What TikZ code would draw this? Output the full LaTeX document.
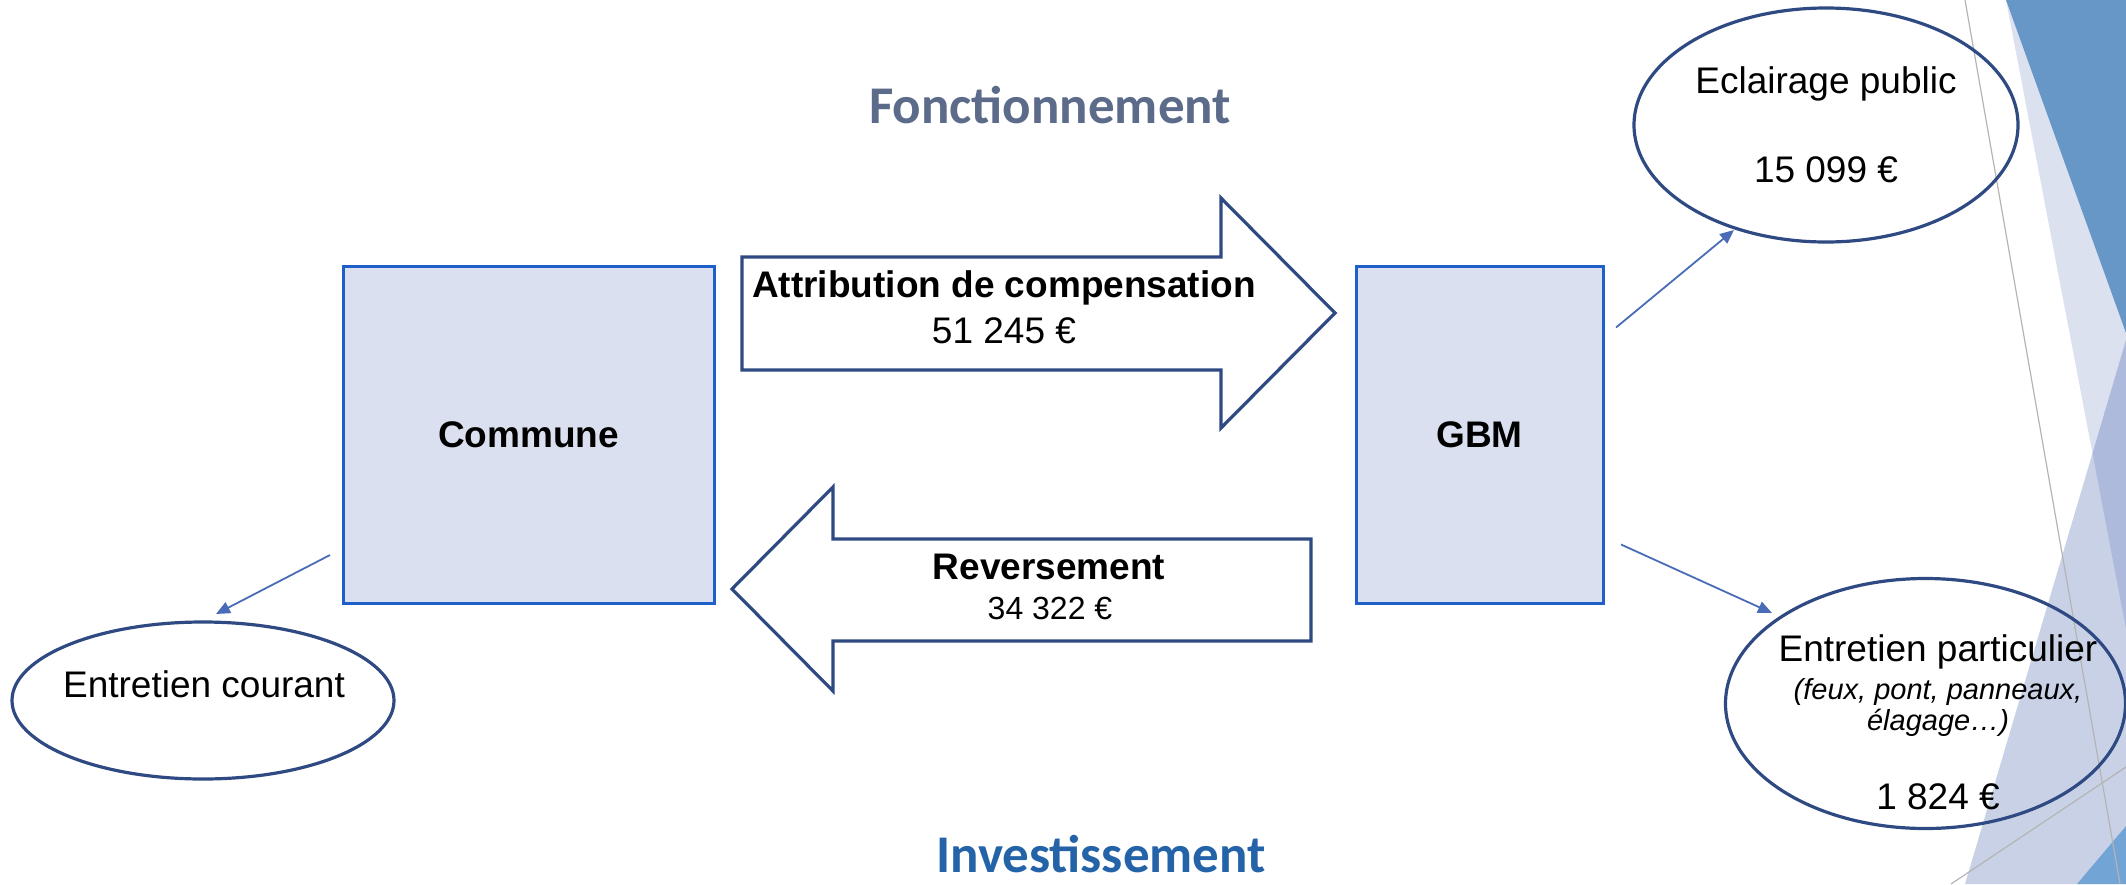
\documentclass[tikz,border=0pt]{standalone}
\usepackage{fontspec}
\setmainfont{Liberation Sans}
\newfontfamily\headfont{Carlito}
\usepackage{xcolor}
\usepackage{tikz}
\usetikzlibrary{arrows.meta,positioning,shapes.geometric}

\definecolor{boxblue}{HTML}{1F5FC9}
\definecolor{boxfill}{HTML}{DAE0F0}
\definecolor{navyline}{HTML}{2F4A82}
\definecolor{thinblue}{HTML}{4A6CB6}
\definecolor{headgray}{HTML}{5B6B89}
\definecolor{headblue}{HTML}{2563A8}
\definecolor{decodark}{HTML}{6797C7}
\definecolor{decopale}{HTML}{DCE1F0}
\definecolor{decolav}{HTML}{2748A0}
\definecolor{decoblue}{HTML}{72A5D6}
\definecolor{decoline}{HTML}{B4B4B4}

\newcommand\bodysize{\fontsize{18.5}{22}\selectfont}
\newcommand\notesize{\fontsize{14.5}{17}\selectfont}
\newcommand\amountsize{\fontsize{16}{19}\selectfont}
\newcommand\headsize{\fontsize{26.5}{30}\selectfont}

\begin{document}
\begin{tikzpicture}[x=0.5pt,y=-0.5pt,
      box_node/.style={
         draw=boxblue,
         fill=boxfill,
         line width=1.5pt,
         inner sep=0pt,
         minimum height=168.5pt,
         font=\bodysize\bfseries},
      oval_node/.style={
         ellipse,
         draw=navyline,
         line width=1.6pt,
         inner sep=0pt},
      block_arrow/.style={
         draw=navyline,
         fill=white,
         line width=1.6pt,
         line join=miter},
      thin_arrow/.style={
         -{Triangle[length=7pt,width=6pt]},
         draw=thinblue,
         fill=thinblue,
         line width=0.9pt},
      lbl/.style={
         anchor=base,
         inner sep=0pt,
         font=\bodysize},
      head_txt/.style={
         anchor=base,
         inner sep=0pt,
         font=\headfont\headsize\bfseries},
      facet_line/.style={
         draw=decoline,
         line width=0.6pt}
]
      \useasboundingbox (0,0) rectangle (2126,884);

      %facets on the right
      \fill[decopale] (2006,0) -- (2126,0) -- (2126,629) -- cycle;
      \fill[decodark] (2006,0) -- (2126,0) -- (2126,333) -- cycle;
      \fill[decolav, fill opacity=0.25] (1965,884) -- (2126,340) -- (2126,884) -- cycle;
      \fill[decoblue] (2077,884) -- (2126,826) -- (2126,884) -- cycle;
      \draw[facet_line] (1965,0) -- (2120,884);
      \draw[facet_line] (1951,884) -- (2126,767);

      %titles
      \node[head_txt, text=headgray] (fonct) at (1050,123) {Fonctionnement};
      \node[head_txt, text=headblue] (invest) at (1101,872) {Investissement};

      %boxes
      \node[box_node, minimum width=185.5pt] (commune) at (528.5,435) {Commune};
      \node[box_node, minimum width=123.5pt, right=319.5pt of commune] (gbm) {GBM};

      %block arrows
      \draw[block_arrow] (742,257) -- (1221,257) -- (1221,198) -- (1335,313)
         -- (1221,428) -- (1221,370) -- (742,370) -- cycle;
      \draw[block_arrow] (1311,539) -- (833,539) -- (833,487) -- (732,589)
         -- (833,691) -- (833,641) -- (1311,641) -- cycle;

      \node[lbl, font=\bodysize\bfseries] (attrib) at (1004,297) {Attribution de compensation};
      \node[lbl] (attribV) at (1004,343) {51 245 €};
      \node[lbl, font=\bodysize\bfseries] (revers) at (1049,579) {Reversement};
      \node[lbl, font=\amountsize] (reversV) at (1050,619) {34 322 €};

      %ellipses
      \node[oval_node, minimum width=191pt, minimum height=78.5pt] (courant) at (203,700.5) {};
      \node[oval_node, minimum width=192pt, minimum height=117pt] (eclair) at (1826,125) {};
      \node[oval_node, minimum width=200pt, minimum height=125pt] (partic) at (1925.5,703.5) {};

      \node[lbl] (courantT) at (204,697) {Entretien courant};
      \node[lbl] (eclairT) at (1826,93) {Eclairage public};
      \node[lbl] (eclairV) at (1826,182) {15 099 €};
      \node[lbl] (particT) at (1938,661) {Entretien particulier};
      \node[lbl, font=\notesize\itshape] (particN1) at (1938,699) {(feux, pont, panneaux,};
      \node[lbl, font=\notesize\itshape] (particN2) at (1938,730) {élagage…)};
      \node[lbl] (particV) at (1938,809) {1 824 €};

      %connectors
      \coordinate (communeOut) at ([shift={(-198.5,120)}]commune.center);
      \coordinate (courantIn) at ([shift={(13,-86.5)}]courant.center);
      \coordinate (gbmUp) at ([shift={(136.5,-107.5)}]gbm.center);
      \coordinate (gbmDown) at ([shift={(141.5,109.5)}]gbm.center);
      \coordinate (eclairIn) at ([shift={(-92,105)}]eclair.center);
      \coordinate (particIn) at ([shift={(-153.5,-90.5)}]partic.center);

    \foreach \i/\j in {% start/end
      communeOut/courantIn,
      gbmUp/eclairIn,
      gbmDown/particIn}
    \draw [thin_arrow] (\i) -- (\j);

\end{tikzpicture}
\end{document}
